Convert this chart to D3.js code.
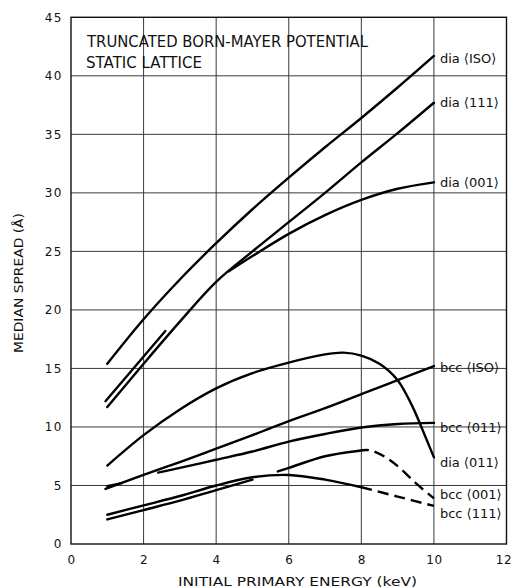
<!DOCTYPE html>
<html>
<head>
<meta charset="utf-8">
<script src="https://cdn.jsdelivr.net/npm/d3@7"></script>
<style>
  body { margin: 0; background: #fff; }
  svg text { font-family: "DejaVu Sans", "Liberation Sans", sans-serif; fill: #111; }
</style>
</head>
<body>
<svg id="chart" width="513" height="588"></svg>
<script>
// Median spread vs. initial primary energy, truncated Born-Mayer potential, static lattice.
// Each curve: [energy (keV), median spread (Å)] pairs. Solid and dashed parts kept apart.
const diaISO      = [[1, 15.4], [2, 19.2], [3, 22.6], [4, 25.7], [5, 28.6], [6, 31.3], [7, 33.9], [8, 36.4], [9, 39.0], [10, 41.7]];
const dia111      = [[1, 11.7], [2, 15.4], [3, 19.0], [4, 22.4], [5, 25.0], [6, 27.5], [7, 30.0], [8, 32.6], [9, 35.1], [10, 37.7]];
const dia001Low   = [[0.95, 12.2], [2.6, 18.2]];
const dia001      = [[4.35, 23.3], [5, 24.6], [6, 26.5], [7, 28.1], [8, 29.4], [9, 30.35], [10, 30.9]];
const dia011      = [[1, 6.7], [2, 9.3], [3, 11.5], [4, 13.3], [5, 14.6], [6, 15.5], [7, 16.2], [7.5, 16.35], [8, 16.1], [8.5, 15.4], [9, 14.0], [9.4, 11.8], [9.8, 8.9], [10, 7.4]];
const bccISO      = [[0.95, 4.7], [2, 5.9], [3, 7.0], [4, 8.15], [5, 9.3], [6, 10.5], [7, 11.6], [8, 12.8], [9, 14.0], [10, 15.2]];
const bcc011Low   = [[1.0, 4.95], [1.4, 5.2]];
const bcc011      = [[2.4, 6.1], [3, 6.5], [4, 7.2], [5, 7.9], [6, 8.75], [7, 9.4], [8, 9.95], [9, 10.25], [10, 10.35]];
const bcc001Low   = [[1, 2.1], [2, 2.9], [3, 3.7], [4, 4.6], [5.0, 5.5]];
const bcc001      = [[5.7, 6.2], [6, 6.5], [7, 7.5], [7.9, 7.95]];
const bcc001Dash  = [[7.9, 7.95], [8.25, 8.0], [8.7, 7.35], [9.06, 6.5], [9.5, 5.2], [10, 3.9]];
const bcc111      = [[1, 2.5], [2, 3.3], [3, 4.1], [4, 5.0], [5, 5.7], [6, 5.9], [7, 5.5], [8, 4.85]];
const bcc111Dash  = [[8, 4.85], [9, 4.05], [10, 3.25]];

// Curve labels at the right edge, with the spread value each one sits at
const curveLabels = ["dia ⟨ISO⟩", "dia ⟨111⟩", "dia ⟨001⟩", "bcc ⟨ISO⟩", "bcc ⟨011⟩", "dia ⟨011⟩", "bcc ⟨001⟩", "bcc ⟨111⟩"];
const labelSpread = [41.5, 37.7, 30.85, 15.05, 10.0, 7.0, 4.27, 2.65];

const xTicks = [0, 2, 4, 6, 8, 10, 12];
const yTicks = [0, 5, 10, 15, 20, 25, 30, 35, 40, 45];
const titleLines = ["TRUNCATED BORN-MAYER POTENTIAL", "STATIC LATTICE"];

const svg = d3.select("#chart");
const x = d3.scaleLinear().domain([0, 12]).range([71, 506.5]);
const y = d3.scaleLinear().domain([0, 45]).range([544, 17.3]);

// grid
const grid = svg.append("g").attr("stroke", "#3a3a3a").attr("stroke-width", 1);
grid.selectAll("line.v").data(xTicks.filter(d => d > 0 && d < 12)).join("line")
  .attr("x1", d => x(d)).attr("x2", d => x(d)).attr("y1", y(0)).attr("y2", y(45));
grid.selectAll("line.h").data(yTicks.filter(d => d > 0 && d < 45)).join("line")
  .attr("x1", x(0)).attr("x2", x(12)).attr("y1", d => y(d)).attr("y2", d => y(d));

// frame
svg.append("rect")
  .attr("x", x(0)).attr("y", y(45))
  .attr("width", x(12) - x(0)).attr("height", y(0) - y(45))
  .attr("fill", "none").attr("stroke", "#111").attr("stroke-width", 1.4);

// axes (labels only; the frame draws the lines)
const xAxis = svg.append("g").attr("transform", `translate(0,${y(0)})`)
  .call(d3.axisBottom(x).tickValues(xTicks).tickSize(0).tickPadding(11).tickFormat(d3.format("d")));
const yAxis = svg.append("g").attr("transform", `translate(${x(0)},0)`)
  .call(d3.axisLeft(y).tickValues(yTicks).tickSize(0).tickPadding(8).tickFormat(d3.format("d")));
[xAxis, yAxis].forEach(g => {
  g.select(".domain").remove();
  g.selectAll("text").attr("font-family", "DejaVu Sans, sans-serif")
    .attr("font-size", 12).attr("fill", "#111");
});
yAxis.selectAll("text").attr("letter-spacing", "1.5px");
xAxis.selectAll("text").attr("letter-spacing", "0.5px");
// keep the last label inside the page edge
xAxis.selectAll("text").filter(d => d === 12).attr("dx", -3);

// curves
const line = d3.line().x(d => x(d[0])).y(d => y(d[1])).curve(d3.curveCatmullRom.alpha(0.5));
const solid = [diaISO, dia111, dia001Low, dia001, dia011, bccISO, bcc011Low, bcc011, bcc001Low, bcc001, bcc111];
const dashed = [bcc001Dash, bcc111Dash];
svg.append("g").selectAll("path").data(solid).join("path")
  .attr("d", line).attr("fill", "none").attr("stroke", "#000")
  .attr("stroke-width", 2.4).attr("stroke-linecap", "round").attr("stroke-linejoin", "round");
svg.append("g").selectAll("path").data(dashed).join("path")
  .attr("d", line).attr("fill", "none").attr("stroke", "#000")
  .attr("stroke-width", 2.4).attr("stroke-dasharray", "11,6");

// curve labels
svg.append("g").selectAll("text").data(curveLabels).join("text")
  .attr("x", x(10) + 6).attr("y", (d, i) => y(labelSpread[i]))
  .attr("dy", "0.35em").attr("font-size", 13).text(d => d);

// title
svg.append("g").selectAll("text").data(titleLines).join("text")
  .attr("x", (d, i) => i === 0 ? 87 : 86).attr("y", (d, i) => i === 0 ? 46.7 : 67.7)
  .attr("font-size", 15.5)
  .attr("textLength", (d, i) => i === 0 ? 281 : 116).attr("lengthAdjust", "spacingAndGlyphs")
  .text(d => d);

// axis titles
svg.append("text")
  .attr("x", 297.5).attr("y", 586).attr("text-anchor", "middle")
  .attr("font-size", 13).attr("textLength", 239).attr("lengthAdjust", "spacingAndGlyphs")
  .text("INITIAL PRIMARY ENERGY (keV)");
svg.append("text")
  .attr("transform", "translate(23,283) rotate(-90)").attr("text-anchor", "middle")
  .attr("font-size", 12.5).attr("textLength", 140).attr("lengthAdjust", "spacingAndGlyphs")
  .text("MEDIAN SPREAD (Å)");
</script>
</body>
</html>
